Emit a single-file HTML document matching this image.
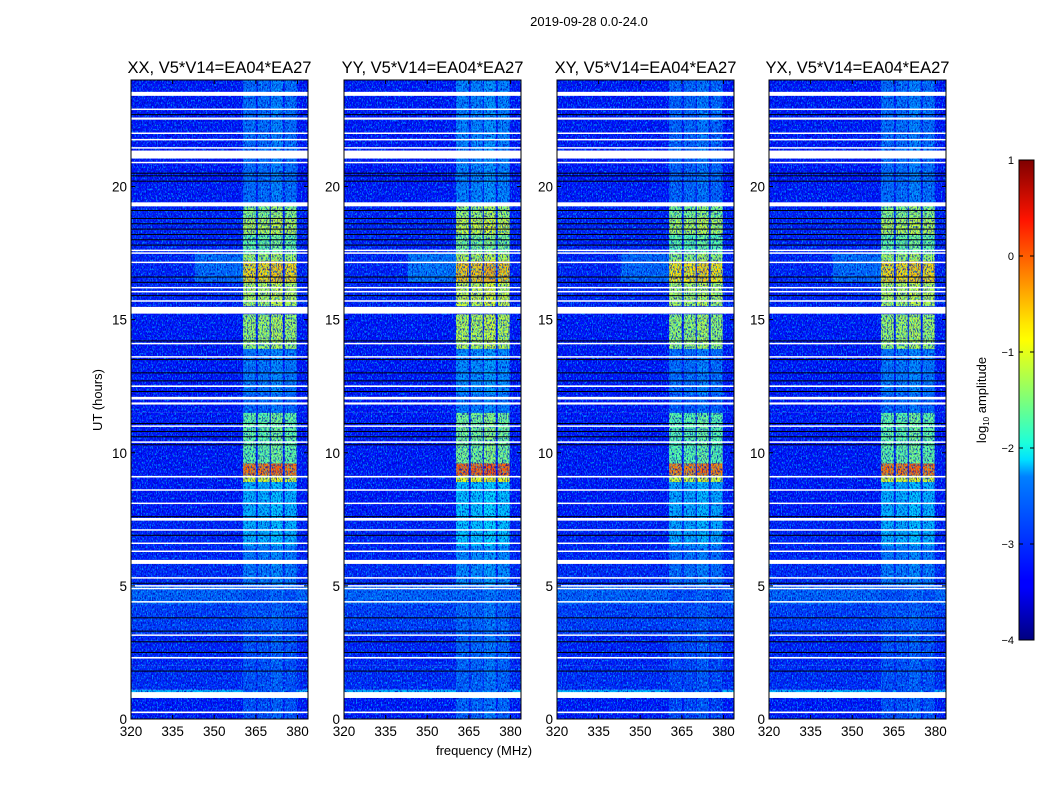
<!DOCTYPE html>
<html><head><meta charset="utf-8"><style>
body{margin:0;background:#fff;}
svg{display:block;font-family:"Liberation Sans","DejaVu Sans",sans-serif;}
</style></head><body>
<svg id="fig" width="1050" height="800" viewBox="0 0 1050 800" xmlns="http://www.w3.org/2000/svg">
<defs>
<filter id="noiseDark" x="0" y="0" width="100%" height="100%">
<feTurbulence type="fractalNoise" baseFrequency="0.8 0.45" numOctaves="2" seed="3"/>
<feColorMatrix type="matrix" values="0 0 0 0 0  0 0 0 0 0  0 0 0 0 0.45  4.5 0 0 0 -2.1"/>
</filter>
<filter id="noiseLight" x="0" y="0" width="100%" height="100%">
<feTurbulence type="fractalNoise" baseFrequency="0.8 0.45" numOctaves="2" seed="11"/>
<feColorMatrix type="matrix" values="0 0 0 0 0  0 0 0 0 0.75  0 0 0 0 1  0 4.5 0 0 -2.3"/>
</filter>
<linearGradient id="jet" x1="0" y1="1" x2="0" y2="0">
<stop offset="0" stop-color="#00007f"/><stop offset="0.11" stop-color="#0000ff"/>
<stop offset="0.125" stop-color="#0000ff"/><stop offset="0.34" stop-color="#0080ff"/>
<stop offset="0.375" stop-color="#00dfff"/><stop offset="0.41" stop-color="#1cffdb"/>
<stop offset="0.5" stop-color="#7dff7a"/><stop offset="0.625" stop-color="#ffff00"/>
<stop offset="0.66" stop-color="#ffe600"/><stop offset="0.875" stop-color="#ff1400"/>
<stop offset="1" stop-color="#7f0000"/>
</linearGradient>
</defs>
<text x="589" y="26" font-size="13" text-anchor="middle">2019-09-28 0.0-24.0</text>
<text transform="translate(102,400) rotate(-90)" font-size="13" text-anchor="middle">UT (hours)</text>
<text x="484" y="755" font-size="13" text-anchor="middle">frequency (MHz)</text>
<g id="panels"></g>
<g id="cbar"></g>
</svg>
<script>
// ---- data ----
const panelTitles = ["XX, V5*V14=EA04*EA27","YY, V5*V14=EA04*EA27","XY, V5*V14=EA04*EA27","YX, V5*V14=EA04*EA27"];
const xTicks = [320,335,350,365,380];
const yTicks = [0,5,10,15,20];
const cbarTicks = [1,0,-1,-2,-3,-4];
// background level segments [startHour, endHour, log10 amp]
const bgSegStart = [0, 0.9, 1.1, 2.0, 3.2, 4.3, 5.0, 5.9, 7.5, 11.5, 15.5, 19.4];
const bgSegEnd   = [0.9, 1.1, 2.0, 3.2, 4.3, 5.0, 5.9, 7.5, 11.5, 15.5, 19.4, 24];
const bgSegLevel = [-3.3, -2.5, -3.2, -3.25, -3.1, -2.9, -3.2, -3.25, -3.3, -3.3, -3.25, -3.3];
// signal sub-bands (MHz)
const bandLo = [360.4, 365.7, 370.4, 375.4];
const bandHi = [365.0, 370.0, 374.7, 379.7];
// signal-level segments in the band region
const sigStart = [0, 5.0, 6.5, 8.9, 9.15, 9.6, 11.5, 12.2, 13.9, 15.5, 16.4, 17.2, 17.5, 18.2, 18.8, 19.4];
const sigEnd   = [5.0, 6.5, 8.9, 9.15, 9.6, 11.5, 12.2, 13.9, 15.2, 16.4, 17.2, 17.5, 18.2, 18.8, 19.3, 24];
const sigLevel = [-3.0, -2.8, -2.5, -1.0, -0.2, -1.6, -2.9, -2.8, -1.3, -1.2, -0.7, -1.3, -1.6, -1.2, -1.4, -2.85];
// per-panel offset of signal level
const panelGain = [0, 0.1, -0.05, 0.0];
// broad glow left of band (hours / MHz)
const glowStart = [16.4];
const glowEnd = [17.5];
const glowLo = [343];
const glowHi = [360.4];
const glowLevel = [-2.6];
// flagged (white) rows [hour, thickness in hours]
const flagHour = [0.25,0.9,2.3,3.15,4.4,4.9,5.0,5.3,5.9,6.3,6.6,7.1,7.5,8.1,8.6,9.1,10.4,11.0,11.85,12.05,12.5,13.6,14.1,15.35,15.7,16.05,16.2,17.15,17.5,17.6,19.33,20.9,21.2,21.45,21.76,22.0,22.55,22.9,23.48];
const flagThick = [0.06,0.22,0.06,0.05,0.05,0.05,0.05,0.05,0.15,0.05,0.05,0.05,0.1,0.05,0.05,0.06,0.05,0.05,0.08,0.1,0.06,0.05,0.05,0.25,0.05,0.05,0.05,0.05,0.05,0.05,0.15,0.05,0.3,0.05,0.05,0.05,0.08,0.05,0.15];
// dead (black) rows
const blackHour = [1.8,2.5,2.9,3.3,3.8,5.1,6.9,7.6,10.3,10.6,10.8,11.1,12.3,12.7,13.0,13.5,14.2,15.9,16.4,16.6,17.8,18.0,18.2,18.4,18.6,18.8,19.1,20.2,20.4,20.5,22.7];
// ---- layout ----
const NS="http://www.w3.org/2000/svg";
const panelX=[131,344,557,769], pW=177, pTop=80, pBot=719;
const fMin=320, fMax=383.8, tMin=0, tMax=24;
function xs(p,f){return panelX[p]+(f-fMin)/(fMax-fMin)*pW;}
function ys(t){return pBot-(t-tMin)/(tMax-tMin)*(pBot-pTop);}
function jet(v){const t=Math.max(0,Math.min(1,(v+4)/5));const c=x=>Math.round(255*Math.max(0,Math.min(1,1.5-Math.abs(4*t-x))));return `rgb(${c(3)},${c(2)},${c(1)})`;}
function el(tag,attrs,parent){const e=document.createElementNS(NS,tag);for(const k in attrs)e.setAttribute(k,attrs[k]);parent.appendChild(e);return e;}
const root=document.getElementById('panels');
for(let p=0;p<4;p++){
  const g=el('g',{},root);
  
  
  const x0=panelX[p];
  for(let i=0;i<bgSegStart.length;i++){
    const r=el('rect',{x:x0,y:ys(bgSegEnd[i]),width:pW,height:ys(bgSegStart[i])-ys(bgSegEnd[i]),fill:jet(bgSegLevel[i])},g);
    
    
  }
  for(let i=0;i<glowStart.length;i++){
    const r=el('rect',{x:xs(p,glowLo[i]),y:ys(glowEnd[i]),width:xs(p,glowHi[i])-xs(p,glowLo[i]),height:ys(glowStart[i])-ys(glowEnd[i]),fill:jet(glowLevel[i]+panelGain[p]),opacity:0.6},g);
    
    
  }
  for(let b=0;b<bandLo.length;b++){
    for(let i=0;i<sigStart.length;i++){
      const lv=sigLevel[i]+panelGain[p]+(b===2?0.1:0);
      const r=el('rect',{x:xs(p,bandLo[b]),y:ys(sigEnd[i]),width:xs(p,bandHi[b])-xs(p,bandLo[b]),height:ys(sigStart[i])-ys(sigEnd[i]),fill:jet(lv)},g);
      
      
    }
  }
  el('rect',{x:x0,y:pTop,width:pW,height:pBot-pTop,filter:'url(#noiseDark)',opacity:0.8},g);
  el('rect',{x:x0,y:pTop,width:pW,height:pBot-pTop,filter:'url(#noiseLight)',opacity:0.6},g);
  for(let i=0;i<blackHour.length;i++){
    const r=el('rect',{x:x0,y:ys(blackHour[i])-0.5,width:pW,height:1,fill:'#000'},g);
    
    
  }
  for(let i=0;i<flagHour.length;i++){
    const h=Math.max(1.5,flagThick[i]*(pBot-pTop)/24);
    const r=el('rect',{x:x0,y:ys(flagHour[i])-h/2,width:pW,height:h,fill:'#fff'},g);
    
    
  }
  el('rect',{x:x0,y:pTop,width:pW,height:pBot-pTop,fill:'none',stroke:'#000','stroke-width':1},g);
  const t=el('text',{x:x0+pW/2,y:73,'font-size':16.5,'text-anchor':'middle'},g);
  t.textContent=panelTitles[p];
  
  
  xTicks.forEach(v=>{
    const x=xs(p,v);
    el('line',{x1:x,x2:x,y1:pBot,y2:pBot-4,stroke:'#000'},g);
    el('line',{x1:x,x2:x,y1:pTop,y2:pTop+4,stroke:'#000'},g);
    const l=el('text',{x:x,y:pBot+17,'font-size':13.5,'text-anchor':'middle'},g);
    l.textContent=v;
    
    
  });
  yTicks.forEach(v=>{
    const y=ys(v);
    el('line',{x1:x0,x2:x0+4,y1:y,y2:y,stroke:'#000'},g);
    el('line',{x1:x0+pW,x2:x0+pW-4,y1:y,y2:y,stroke:'#000'},g);
    const l=el('text',{x:x0-4,y:y+5,'font-size':13.5,'text-anchor':'end'},g);
    l.textContent=v;
    
    
  });
}
// colorbar
const cb=document.getElementById('cbar');
const cbX=1019,cbW=15,cbTop=160,cbBot=640;
function cy(v){return cbBot-(v+4)/5*(cbBot-cbTop);}
el('rect',{x:cbX,y:cbTop,width:cbW,height:cbBot-cbTop,fill:'url(#jet)',stroke:'#000','stroke-width':1},cb);
cbarTicks.forEach(v=>{
  const y=cy(v);
  el('line',{x1:cbX,x2:cbX+4,y1:y,y2:y,stroke:'#000'},cb);
  el('line',{x1:cbX+cbW,x2:cbX+cbW-4,y1:y,y2:y,stroke:'#000'},cb);
  const l=el('text',{x:cbX-5,y:y+4,'font-size':11,'text-anchor':'end'},cb);
  l.textContent=(v<0?'\u2212'+(-v):String(v));
  
  
});
const cl=el('text',{transform:'translate(986,400) rotate(-90)','font-size':13,'text-anchor':'middle'},cb);


cl.innerHTML='log<tspan font-size="8" dy="3">10</tspan><tspan dy="-3"> amplitude</tspan>';
</script>
</body></html>
